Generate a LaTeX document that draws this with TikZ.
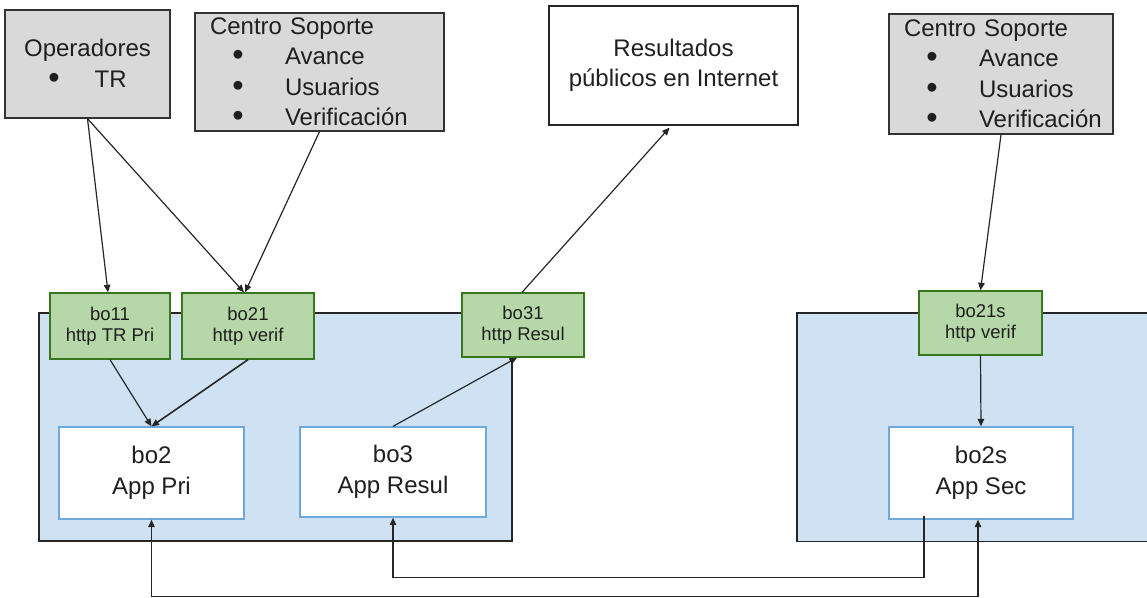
\documentclass[tikz,border=0pt]{standalone}
\usepackage{fontspec}
\usepackage{graphicx}
\setmainfont{Liberation Sans}
\usetikzlibrary{arrows.meta,calc}
\definecolor{grayfill}{HTML}{D9D9D9}
\definecolor{greenfill}{HTML}{B6D7A8}
\definecolor{greenline}{HTML}{38761D}
\definecolor{bluefill}{HTML}{CFE2F3}
\definecolor{blueline}{HTML}{6FA8DC}
\newcommand\bigdot{\raisebox{-1pt}{\scalebox{1.35}{•}}}
\newcommand\blt[1]{\mbox{\hspace*{22pt}\makebox[12pt][c]{\bigdot}\hspace{41pt}#1}}
\begin{document}
\begin{tikzpicture}[x=1pt,y=-1pt,
  txt/.style={font=\fontsize{24}{30.5}\selectfont, text=black!88},
  graybox/.style={txt, draw=black!80, line width=1.3pt, fill=grayfill, inner sep=0pt},
  whitebox/.style={txt, draw=black!85, line width=1.3pt, fill=white, inner sep=0pt, align=center},
  greenbox/.style={font=\fontsize{18.5}{21.5}\selectfont, text=black!88, draw=greenline, line width=1.3pt, fill=greenfill, inner sep=0pt, align=center},
  bluebox/.style={draw=black!85, line width=1.3pt, fill=bluefill, inner sep=0pt},
  appbox/.style={txt, draw=blueline, line width=1.3pt, fill=white, inner sep=0pt, align=center},
  conn/.style={draw=black!85, line width=1.2pt},
  tip/.tip={Triangle[length=7.5pt,width=6.5pt]}
]
\useasboundingbox (0,0) rectangle (1147,597);

% top boxes
\node[graybox, minimum width=165, minimum height=108, align=center] (ops) at (87.5,64)
  {Operadores\\ \bigdot\hspace{35pt}TR};
\node[graybox, minimum width=249, minimum height=118, text width=219, align=left] (cs1) at (319.5,72)
  {Centro Soporte\\ \blt{Avance}\\ \blt{Usuarios}\\ \blt{Verificación}};
\node[whitebox, minimum width=249, minimum height=119] (res) at (673.5,65.5)
  {Resultados\\ públicos en Internet};
\node[graybox, minimum width=224, minimum height=120, text width=194, align=left] (cs2) at (1001,74)
  {Centro Soporte\\ \blt{Avance}\\ \blt{Usuarios}\\ \blt{Verificación}};

% blue containers
\node[bluebox, minimum width=473, minimum height=228] (blueL) at (275.5,427) {};
\node[fill=bluefill, inner sep=0pt, anchor=north west, minimum width=350, minimum height=228] (blueR) at (797,313) {};
\draw[draw=black!85, line width=1.3pt] (blueR.north east) -- (blueR.north west) -- (blueR.south west) -- (blueR.south east);

% green gateways
\node[greenbox, minimum width=120, minimum height=66] (bo11) at (110,326) {bo11\\http TR Pri};
\node[greenbox, minimum width=132, minimum height=66] (bo21) at (248,326) {bo21\\http verif};
\node[greenbox, minimum width=122, minimum height=64] (bo31) at (523,325) {bo31\\http Resul};
\node[greenbox, minimum width=123, minimum height=64] (bo21s) at (980.5,323) {bo21s\\http verif};

% apps
\node[appbox, minimum width=185, minimum height=92] (bo2) at (151.5,473) {bo2\\App Pri};
\node[appbox, minimum width=186, minimum height=90] (bo3) at (393,472) {bo3\\App Resul};
\node[appbox, minimum width=184, minimum height=92] (bo2s) at (981,473) {bo2s\\App Sec};

% connectors
\draw[conn,-{tip}] (ops.south) -- ($(bo11.north)+(-2,0)$);
\draw[conn,-{tip}] (ops.south) -- ($(bo21.north)+(-4,0)$);
\draw[conn,-{tip}] (cs1.south) -- ($(bo21.north)+(-3,0)$);
\draw[conn,-{tip}] (bo11.south) -- (bo2.north);
\draw[conn,line width=1.6pt,-{tip}] (bo21.south) -- (bo2.north);
\draw[conn,-{tip}] (bo3.north) -- ($(bo31.south)+(-6,0)$);
\draw[conn,-{tip}] ($(bo31.north)+(-1,0)$) -- ($(res.south)+(-4,2)$);
\draw[conn,-{tip}] (cs2.south) -- (bo21s.north);
\draw[conn,-{tip}] (bo21s.south) -- (bo2s.north);
\draw[conn,-{tip}] ($(bo2s.south)+(-57,-4)$) |- ($(bo3.south)+(0,60)$) -- (bo3.south);
\draw[conn,{tip}-{tip}] (bo2.south) -- ++(0,77) -| ($(bo2s.south)+(-3,0)$);
\end{tikzpicture}
\end{document}
